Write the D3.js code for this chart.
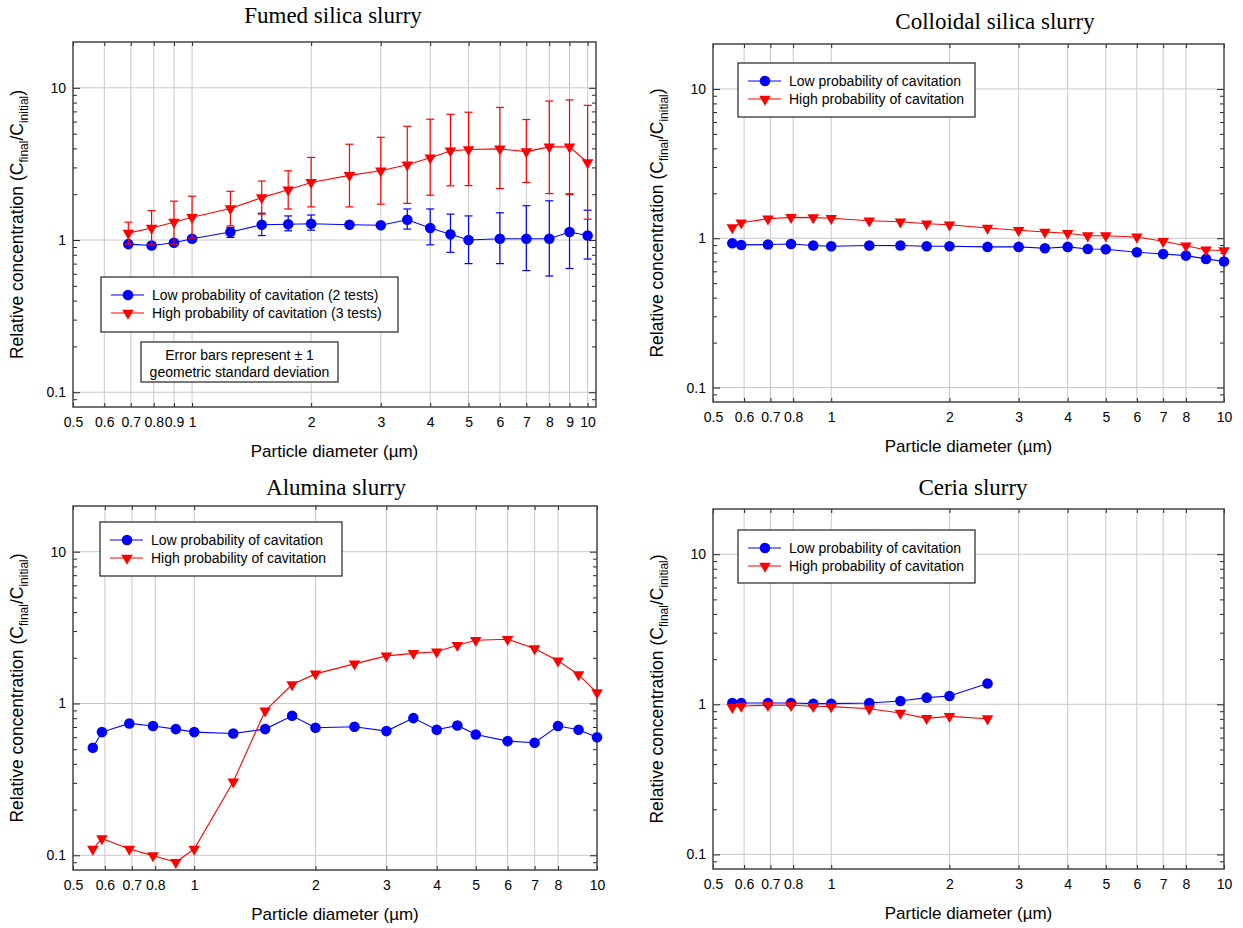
<!DOCTYPE html>
<html>
<head>
<meta charset="utf-8">
<script src="https://cdn.jsdelivr.net/npm/d3@7"></script>
<style>
body { margin: 0; background: #fff; }
</style>
</head>
<body>
<svg id="chart" width="1243" height="928"></svg>
<script>

// particle diameters (um)
var sizesAll = [0.56, 0.59, 0.69, 0.79, 0.9, 1, 1.25, 1.5, 1.75, 2, 2.5, 3, 3.5, 4, 4.5, 5, 6, 7, 8, 9, 10];
var sizesFumed = [0.69, 0.79, 0.9, 1, 1.25, 1.5, 1.75, 2, 2.5, 3, 3.5, 4, 4.5, 5, 6, 7, 8, 9, 10];
var sizesCeria = [0.56, 0.59, 0.69, 0.79, 0.9, 1, 1.25, 1.5, 1.75, 2, 2.5];

// fumed silica, with +/- 1 gsd
var fumedLow   = [0.94, 0.92, 0.96, 1.02, 1.13, 1.26, 1.27, 1.28, 1.26, 1.25, 1.36, 1.20, 1.09, 1.00, 1.02, 1.02, 1.02, 1.13, 1.07];
var fumedLowUp = [null, null, null, null, 1.21, 1.50, 1.44, 1.46, null, null, 1.60, 1.60, 1.48, 1.44, 1.51, 1.68, 1.81, 2.01, 1.57];
var fumedLowDn = [null, null, null, null, 1.04, 1.07, 1.15, 1.16, null, null, 1.18, 0.93, 0.83, 0.70, 0.70, 0.63, 0.58, 0.65, 0.75];
var fumedHigh   = [1.11, 1.20, 1.31, 1.41, 1.61, 1.90, 2.14, 2.39, 2.66, 2.85, 3.12, 3.47, 3.85, 3.93, 3.97, 3.81, 4.09, 4.09, 3.23];
var fumedHighUp = [1.31, 1.56, 1.80, 1.94, 2.09, 2.44, 2.85, 3.49, 4.26, 4.73, 5.59, 6.22, 6.70, 6.91, 7.43, 6.19, 8.19, 8.33, 7.67];
var fumedHighDn = [0.94, 0.93, 0.94, 1.03, 1.24, 1.48, 1.60, 1.65, 1.65, 1.72, 1.74, 1.97, 2.27, 2.28, 2.18, 2.39, 2.02, 1.99, 1.37];

var colloidalLow  = [0.926, 0.902, 0.907, 0.916, 0.893, 0.884, 0.893, 0.893, 0.884, 0.884, 0.875, 0.875, 0.857, 0.875, 0.848, 0.844, 0.806, 0.785, 0.765, 0.727, 0.698];
var colloidalHigh = [1.18, 1.27, 1.35, 1.38, 1.375, 1.36, 1.31, 1.29, 1.25, 1.23, 1.17, 1.13, 1.10, 1.08, 1.04, 1.04, 1.02, 0.955, 0.89, 0.835, 0.827];

var aluminaLow  = [0.511, 0.648, 0.739, 0.710, 0.678, 0.648, 0.635, 0.678, 0.830, 0.692, 0.702, 0.658, 0.801, 0.671, 0.717, 0.625, 0.565, 0.551, 0.710, 0.671, 0.600];
var aluminaHigh = [0.110, 0.129, 0.110, 0.0995, 0.090, 0.110, 0.305, 0.895, 1.334, 1.567, 1.824, 2.06, 2.14, 2.19, 2.42, 2.61, 2.65, 2.30, 1.91, 1.55, 1.18];

var ceriaLow  = [1.02, 1.02, 1.02, 1.02, 1.01, 1.01, 1.02, 1.053, 1.108, 1.137, 1.375];
var ceriaHigh = [0.955, 0.975, 0.985, 0.985, 0.97, 0.965, 0.935, 0.875, 0.806, 0.831, 0.802];

// axis ticks
var xTicksFine = [0.5, 0.6, 0.7, 0.8, 0.9, 1, 2, 3, 4, 5, 6, 7, 8, 9, 10];
var xTicksStd  = [0.5, 0.6, 0.7, 0.8, 1, 2, 3, 4, 5, 6, 7, 8, 10];
var yMajor = [0.1, 1, 10];
var yMinor = [0.09, 0.2, 0.3, 0.4, 0.5, 0.6, 0.7, 0.8, 0.9, 2, 3, 4, 5, 6, 7, 8, 9];

var legendLow = "Low probability of cavitation";
var legendHigh = "High probability of cavitation";

var blue = "#0000ff", red = "#ff0000";
var font = "Arial, 'Liberation Sans', sans-serif";
var serif = "'Liberation Serif', 'Times New Roman', serif";

var svg = d3.select("#chart");

function drawPanel(p) {
  var g = svg.append("g");
  var x = d3.scaleLog().domain([0.5, p.xMax]).range([p.left, p.right]);
  var y = d3.scaleLog().domain([0.08, 20]).range([p.bottom, p.top]);

  // grid lines
  g.selectAll(".gx").data(p.grid).enter().append("line")
    .attr("x1", function(d) { return x(d); })
    .attr("x2", function(d) { return x(d); })
    .attr("y1", p.top).attr("y2", p.bottom)
    .attr("stroke", "#c8c8c8").attr("stroke-width", 1);
  g.selectAll(".gy").data(yMajor).enter().append("line")
    .attr("x1", p.left).attr("x2", p.right)
    .attr("y1", function(d) { return y(d); })
    .attr("y2", function(d) { return y(d); })
    .attr("stroke", "#c8c8c8").attr("stroke-width", 1);

  // axes, ticks pointing inward
  var fmt = function(d) { return String(d); };
  var axes = [
    g.append("g").attr("transform", "translate(0," + p.bottom + ")")
      .call(d3.axisBottom(x).tickValues(p.ticks).tickSize(-4).tickPadding(10).tickFormat(fmt)),
    g.append("g").attr("transform", "translate(0," + p.top + ")")
      .call(d3.axisTop(x).tickValues(p.ticks).tickSize(-4).tickFormat("")),
    g.append("g").attr("transform", "translate(" + p.left + ",0)")
      .call(d3.axisLeft(y).tickValues(yMajor).tickSize(-7).tickPadding(7).tickFormat(fmt)),
    g.append("g").attr("transform", "translate(" + p.left + ",0)")
      .call(d3.axisLeft(y).tickValues(yMinor).tickSize(-4).tickFormat("")),
    g.append("g").attr("transform", "translate(" + p.right + ",0)")
      .call(d3.axisRight(y).tickValues(yMajor).tickSize(-7).tickFormat("")),
    g.append("g").attr("transform", "translate(" + p.right + ",0)")
      .call(d3.axisRight(y).tickValues(yMinor).tickSize(-4).tickFormat(""))
  ];
  axes.forEach(function(a) {
    a.attr("font-family", font).attr("font-size", 14);
    a.select(".domain").remove();
    a.selectAll(".tick line").attr("stroke", "#222");
    a.selectAll(".tick text").attr("fill", "#000");
  });

  // frame
  g.append("rect")
    .attr("x", p.left).attr("y", p.top)
    .attr("width", p.right - p.left).attr("height", p.bottom - p.top)
    .attr("fill", "none").attr("stroke", "#444").attr("stroke-width", 1.5);

  var line = d3.line()
    .x(function(d) { return x(d[0]); })
    .y(function(d) { return y(d[1]); });

  p.series.forEach(function(s) {
    var pts = s.x.map(function(v, i) { return [v, s.y[i], s.up ? s.up[i] : null, s.dn ? s.dn[i] : null]; });

    // error bars
    var bars = pts.filter(function(d) { return d[2] != null; });
    var eb = g.append("g").attr("stroke", s.color).attr("stroke-width", 1.2);
    bars.forEach(function(d) {
      var cx = x(d[0]);
      eb.append("line").attr("x1", cx).attr("x2", cx).attr("y1", y(d[2])).attr("y2", y(d[3]));
      eb.append("line").attr("x1", cx - 4).attr("x2", cx + 4).attr("y1", y(d[2])).attr("y2", y(d[2]));
      eb.append("line").attr("x1", cx - 4).attr("x2", cx + 4).attr("y1", y(d[3])).attr("y2", y(d[3]));
    });

    g.append("path").datum(pts)
      .attr("fill", "none").attr("stroke", s.color).attr("stroke-width", 1.1)
      .attr("d", line);

    g.selectAll(null).data(pts).enter().append("path")
      .attr("transform", function(d) {
        return "translate(" + x(d[0]) + "," + y(d[1]) + ")" + (s.shape == "tri" ? " rotate(180)" : "");
      })
      .attr("d", marker(s.shape))
      .attr("fill", s.color);
  });

  // title
  svg.append("text")
    .attr("x", p.titleX).attr("y", p.titleY)
    .attr("text-anchor", "middle")
    .attr("font-family", serif).attr("font-size", 23)
    .text(p.title);

  // x label
  svg.append("text")
    .attr("x", (p.left + p.right) / 2).attr("y", p.bottom + 50)
    .attr("text-anchor", "middle")
    .attr("font-family", font).attr("font-size", 17)
    .text("Particle diameter (\u00b5m)");

  // y label with subscripts
  var yl = svg.append("text")
    .attr("transform", "translate(" + (p.left - 50) + "," + ((p.top + p.bottom) / 2) + ") rotate(-90)")
    .attr("text-anchor", "middle")
    .attr("font-family", font).attr("font-size", 17.5);
  yl.append("tspan").text("Relative concentration (C");
  yl.append("tspan").attr("font-size", 12).attr("dy", 5).text("final");
  yl.append("tspan").attr("dy", -5).text("/C");
  yl.append("tspan").attr("font-size", 12).attr("dy", 5).text("initial");
  yl.append("tspan").attr("dy", -5).text(")");

  // legend
  var L = p.legend;
  var lg = svg.append("g").attr("transform", "translate(" + L.x + "," + L.y + ")");
  lg.append("rect").attr("width", L.w).attr("height", L.h)
    .attr("fill", "#fff").attr("stroke", "#333").attr("stroke-width", 1.3);
  p.series.forEach(function(s, i) {
    var ly = 18 + i * 18;
    lg.append("line").attr("x1", 10).attr("x2", 43).attr("y1", ly).attr("y2", ly)
      .attr("stroke", s.color).attr("stroke-width", 1.1);
    lg.append("path")
      .attr("transform", "translate(27," + ly + ")" + (s.shape == "tri" ? " rotate(180)" : ""))
      .attr("d", marker(s.shape)).attr("fill", s.color);
    lg.append("text").attr("x", 51).attr("y", ly).attr("dy", "0.35em")
      .attr("font-family", font).attr("font-size", 14)
      .text(s.label);
  });

  if (p.note) {
    var N = p.note;
    var ng = svg.append("g").attr("transform", "translate(" + N.x + "," + N.y + ")");
    ng.append("rect").attr("width", N.w).attr("height", N.h)
      .attr("fill", "#fff").attr("stroke", "#333").attr("stroke-width", 1.3);
    N.lines.forEach(function(t, i) {
      ng.append("text").attr("x", N.w / 2).attr("y", 13 + i * 17).attr("dy", "0.35em")
        .attr("text-anchor", "middle")
        .attr("font-family", font).attr("font-size", 14)
        .text(t);
    });
  }
}

function marker(shape) {
  if (shape == "tri") return d3.symbol().type(d3.symbolTriangle).size(58)();
  return d3.symbol().type(d3.symbolCircle).size(Math.PI * 28)();
}

drawPanel({
  left: 73, right: 596, top: 42, bottom: 407, xMax: 10.5,
  ticks: xTicksFine, grid: [0.6, 0.7, 0.8, 0.9, 1, 2, 3, 4, 5, 6, 7, 8, 9, 10],
  title: "Fumed silica slurry", titleX: 333, titleY: 23,
  series: [
    {x: sizesFumed, y: fumedLow, up: fumedLowUp, dn: fumedLowDn, color: blue, shape: "circle", label: legendLow + " (2 tests)"},
    {x: sizesFumed, y: fumedHigh, up: fumedHighUp, dn: fumedHighDn, color: red, shape: "tri", label: legendHigh + " (3 tests)"}
  ],
  legend: {x: 101, y: 277, w: 297, h: 55},
  note: {x: 141, y: 342, w: 197, h: 40, lines: ["Error bars represent \u00b1 1", "geometric standard deviation"]}
});

drawPanel({
  left: 713, right: 1224, top: 44, bottom: 402, xMax: 10,
  ticks: xTicksStd, grid: [0.6, 0.7, 0.8, 1, 2, 3, 4, 5, 6, 7, 8],
  title: "Colloidal silica slurry", titleX: 995, titleY: 29,
  series: [
    {x: sizesAll, y: colloidalLow, color: blue, shape: "circle", label: legendLow},
    {x: sizesAll, y: colloidalHigh, color: red, shape: "tri", label: legendHigh}
  ],
  legend: {x: 738, y: 63, w: 237, h: 54}
});

drawPanel({
  left: 73, right: 597, top: 506, bottom: 870, xMax: 10,
  ticks: xTicksStd, grid: [0.6, 0.7, 0.8, 1, 2, 3, 4, 5, 6, 7, 8],
  title: "Alumina slurry", titleX: 336, titleY: 495,
  series: [
    {x: sizesAll, y: aluminaLow, color: blue, shape: "circle", label: legendLow},
    {x: sizesAll, y: aluminaHigh, color: red, shape: "tri", label: legendHigh}
  ],
  legend: {x: 100, y: 522, w: 242, h: 54}
});

drawPanel({
  left: 713, right: 1224, top: 509, bottom: 869, xMax: 10,
  ticks: xTicksStd, grid: [0.6, 0.7, 0.8, 1, 2, 3, 4, 5, 6, 7, 8],
  title: "Ceria slurry", titleX: 973, titleY: 495,
  series: [
    {x: sizesCeria, y: ceriaLow, color: blue, shape: "circle", label: legendLow},
    {x: sizesCeria, y: ceriaHigh, color: red, shape: "tri", label: legendHigh}
  ],
  legend: {x: 738, y: 530, w: 237, h: 53}
});

</script>
</body>
</html>
